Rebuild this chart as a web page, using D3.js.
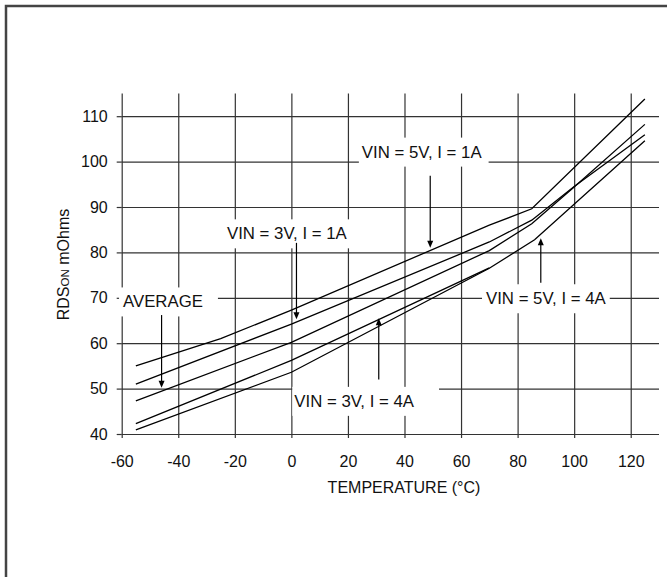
<!DOCTYPE html>
<html>
<head>
<meta charset="utf-8">
<script src="https://cdn.jsdelivr.net/npm/d3@7"></script>
<style>
body { margin: 0; background: #fff; }
svg text { font-family: "Liberation Sans", Arial, sans-serif; fill: #111; }
</style>
</head>
<body>
<script>
// temperature ticks and resistance ticks
var xTicks = [-60, -40, -20, 0, 20, 40, 60, 80, 100, 120];
var yTicks = [40, 50, 60, 70, 80, 90, 100, 110];

// curves: [temperature, RDSon mOhms]
var vin5i1 = [[-55, 55], [-25, 61], [0, 67.3], [70, 86], [85, 89.6], [125, 113.8]];
var vin3i1 = [[-55, 51], [0, 64.2], [70, 82.3], [85, 87.1], [100, 94.5], [125, 105.9]];
var average = [[-55, 47.3], [0, 60.2], [70, 80.4], [85, 86.3], [100, 94.4], [125, 108.2]];
var vin3i4 = [[-55, 42.3], [0, 56.2], [70, 76.6]];
var vin5i4 = [[-55, 40.9], [0, 53.6], [70, 76.5], [86, 82.8], [125, 104.6]];
var curves = [vin5i1, vin3i1, average, vin3i4, vin5i4];

// callouts: label centre, arrow temperature, arrow start/end value
var notes = [
	{text: "VIN = 5V, I = 1A", t: 46.1, v: 102.2, at: 49.1, from: 96.9, to: 81, padL: 3, padR: 7},
	{text: "VIN = 3V, I = 1A", t: -1.6, v: 84.2, at: 1.8, from: 82.1, to: 65.3, padL: 4, padR: 4},
	{text: "AVERAGE", t: -45.4, v: 69.2, at: -45.9, from: 66.2, to: 50.2, padL: 4, padR: 15},
	{text: "VIN = 5V, I = 4A", t: 90, v: 69.9, at: 88.2, from: 73.3, to: 83.1, padL: 4, padR: 4},
	{text: "VIN = 3V, I = 4A", t: 22.2, v: 47.3, at: 30.9, from: 52, to: 65.5, padL: 2, padR: 25}
];

var width = 667, height = 577;
var svg = d3.select("body").append("svg")
	.attr("width", width)
	.attr("height", height);

// frame, cut off on the right and bottom like the scan
svg.append("rect")
	.attr("x", 6).attr("y", 6)
	.attr("width", 720).attr("height", 640)
	.attr("fill", "none")
	.attr("stroke", "#444")
	.attr("stroke-width", 2.5);

var x = d3.scaleLinear().domain([-60, 130]).range([121.7, 659]);
var y = d3.scaleLinear().domain([40, 115]).range([434, 93.5]);
var gridColor = "#333";
var plain = function(d){ return String(d); };

// grid
var gx = svg.append("g")
	.attr("transform", "translate(0," + y(40) + ")")
	.call(d3.axisBottom(x).tickValues(xTicks).tickSize(-(y(40) - y(115))).tickFormat(""));
var gy = svg.append("g")
	.attr("transform", "translate(" + x(-60) + ",0)")
	.call(d3.axisLeft(y).tickValues(yTicks).tickSize(-(x(130) - x(-60))).tickFormat(""));
[gx, gy].forEach(function(g){
	g.select(".domain").remove();
	g.selectAll("line").attr("stroke", gridColor).attr("stroke-width", 1.2);
});

// axes with outside tick stubs and labels
var ax = svg.append("g")
	.attr("transform", "translate(0," + y(40) + ")")
	.call(d3.axisBottom(x).tickValues(xTicks).tickFormat(plain).tickSizeInner(4).tickSizeOuter(0).tickPadding(18));
var ay = svg.append("g")
	.attr("transform", "translate(" + x(-60) + ",0)")
	.call(d3.axisLeft(y).tickValues(yTicks).tickFormat(plain).tickSizeInner(5).tickSizeOuter(0).tickPadding(9));
[ax, ay].forEach(function(g){
	g.select(".domain").remove();
	g.selectAll("line").attr("stroke", gridColor).attr("stroke-width", 1.2);
	g.selectAll("text").attr("font-size", 16).attr("font-family", "Liberation Sans, Arial, sans-serif").attr("fill", "#111");
});

// axis titles
svg.append("text")
	.attr("x", 404).attr("y", 493)
	.attr("text-anchor", "middle")
	.attr("font-size", 16)
	.text("TEMPERATURE (\u00B0C)");

var yl = svg.append("text")
	.attr("transform", "translate(68.5,264.5) rotate(-90)")
	.attr("text-anchor", "middle")
	.attr("font-size", 16);
yl.append("tspan").text("RDS");
yl.append("tspan").attr("font-size", 11.5).text("ON");
yl.append("tspan").text(" mOhms");

// callout labels with white boxes that break the grid
var fs = 16.8;
notes.forEach(function(n){
	var cx = x(n.t), cy = y(n.v);
	var box = svg.append("rect");
	var txt = svg.append("text")
		.attr("x", cx).attr("y", cy + 0.36 * fs)
		.attr("text-anchor", "middle")
		.attr("font-size", fs)
		.text(n.text);
	var w = txt.node().getComputedTextLength();
	box.attr("x", cx - w / 2 - n.padL)
		.attr("y", cy - 14)
		.attr("width", w + n.padL + n.padR)
		.attr("height", 29)
		.attr("fill", "#fff");

	var axp = x(n.at), y0 = y(n.from), y1 = y(n.to);
	var dir = y1 > y0 ? 1 : -1;
	svg.append("line")
		.attr("x1", axp).attr("x2", axp)
		.attr("y1", y0).attr("y2", y1 - dir * 6)
		.attr("stroke", "#000")
		.attr("stroke-width", 1.2);
	var p = d3.path();
	p.moveTo(axp, y1);
	p.lineTo(axp - 3, y1 - dir * 7);
	p.lineTo(axp + 3, y1 - dir * 7);
	p.closePath();
	svg.append("path").attr("d", p.toString()).attr("fill", "#000");
});

// curves
var line = d3.line()
	.x(function(d){ return x(d[0]); })
	.y(function(d){ return y(d[1]); });
svg.selectAll("path.curve")
	.data(curves)
	.enter()
	.append("path")
	.attr("class", "curve")
	.attr("d", line)
	.attr("fill", "none")
	.attr("stroke", "#000")
	.attr("stroke-width", 1.3);
</script>
</body>
</html>
